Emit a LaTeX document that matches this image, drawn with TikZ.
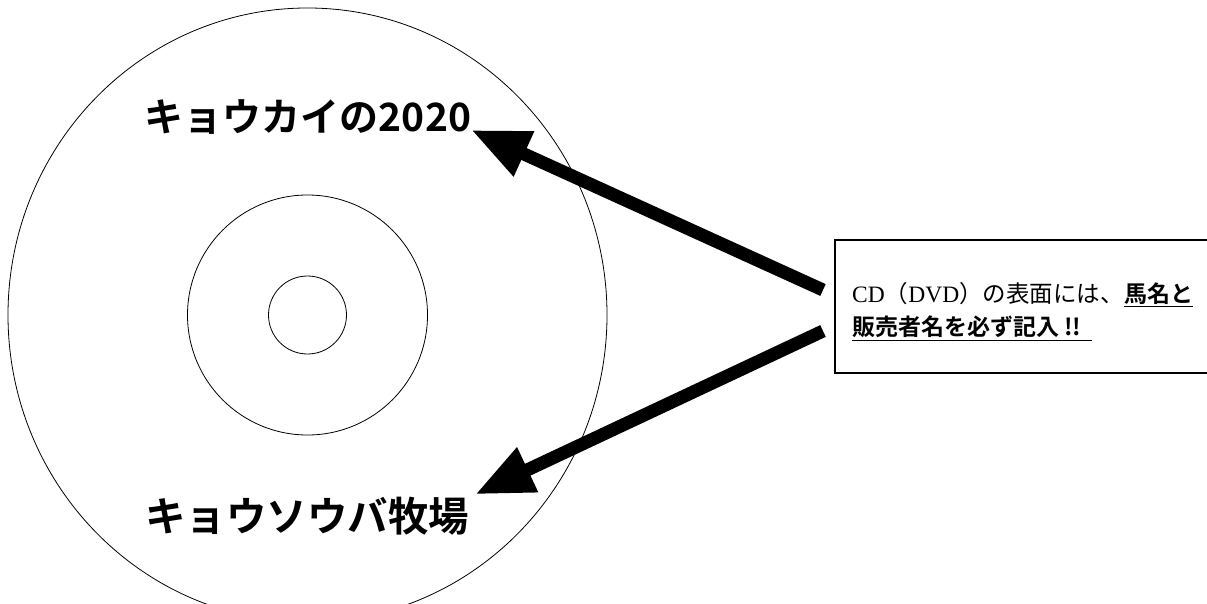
\documentclass[tikz,border=0pt]{standalone}
\usepackage{fontspec}
\usetikzlibrary{arrows.meta,calc}
\newfontfamily\jp{Noto Sans CJK JP}
\newfontfamily\jpb{Noto Sans CJK JP Bold}
\newfontfamily\lserif{Liberation Serif}
\tikzset{
  disc/.style={line width=0.8pt},
  bigarrow/.style={line width=13pt,-{Triangle[length=58pt,width=46pt]}},
  bigtitle/.style={inner sep=0pt,font=\jpb\fontsize{39}{42}\selectfont},
  boxtext/.style={inner sep=0pt,font=\fontsize{23.5}{27}\selectfont},
  boxbold/.style={inner sep=0pt,font=\jpb\fontsize{23}{27}\selectfont},
  uline/.style={line width=1pt},
  boxline/.style={line width=1.2pt}
}
\begin{document}
\begin{tikzpicture}[x=1pt,y=-1pt]
\useasboundingbox (0,0) rectangle (1207,604);
\begin{scope}
\clip (0,0) rectangle (1207,604);
% disc
\draw[disc] (307.5,315) ellipse [x radius=299.5, y radius=307];
\draw[disc] (307.5,315) circle [radius=120];
\draw[disc] (307.5,315) circle [radius=39];
% box (open to the right: its right side lies beyond the picture's edge)
\coordinate (bnw) at (835,240);
\coordinate (bsw) at (835,373);
\coordinate (bne) at (1207,240);
\coordinate (bse) at (1207,373);
\draw[boxline] (bne) -- (bnw) -- (bsw) -- (bse);
\end{scope}
% titles
\node[bigtitle,anchor=base] (t1) at (308,132) {キョウカイの2020};
\node[bigtitle,anchor=base,font=\jpb\fontsize{40.5}{44}\selectfont] (t2) at (307,531) {キョウソウバ牧場};
\node[boxtext,anchor=base west] (l1a) at (852,302) {{\lserif CD}{\jp （}{\lserif DVD}{\jp ）の表面には、}};
\node[boxbold,anchor=base west] (l1b) at (l1a.base east) {馬名と};
\node[boxbold,anchor=base west] (l2) at (852,335) {販売者名を必ず記入 !!};
\draw[uline] ($(l1b.base west)+(0,4)$) -- ($(l1b.base east)+(0,4)$);
\draw[uline] ($(l2.base west)+(0,5)$) -- ($(l2.base east)+(10,5)$);
% arrows
\coordinate (a1) at (823,290);
\coordinate (a2) at (823,331);
\coordinate (tip1) at ($(t1.base east)+(0,-2)$);
\coordinate (tip2) at ($(t2.north east)+(6,-2)$);
\draw[bigarrow] (a1) -- (tip1);
\draw[bigarrow] (a2) -- (tip2);
\end{tikzpicture}
\end{document}
